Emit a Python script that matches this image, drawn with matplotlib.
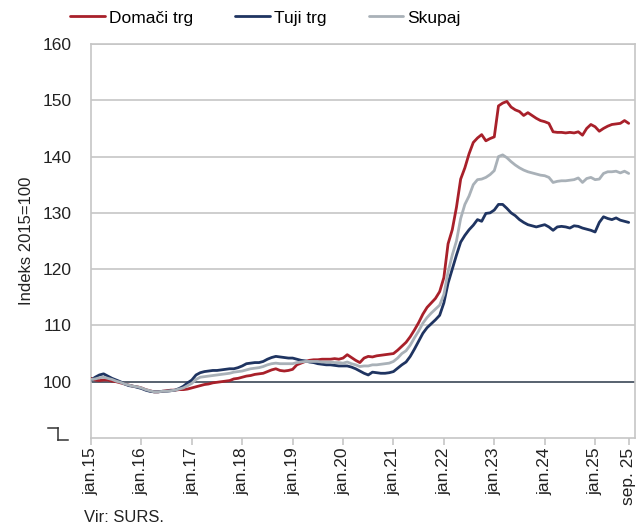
import matplotlib
matplotlib.use("Agg")
import matplotlib.pyplot as plt
from matplotlib.lines import Line2D
import numpy as np

plt.rcParams['font.family'] = ['Liberation Sans', 'DejaVu Sans']

# Monthly data, jan 2015 - sep 2025
domaci = [
    100.6, 100.3, 100.2, 100.3, 100.3, 100.1, 100.0, 99.8, 99.6, 99.4, 99.2, 99.1,
    98.9, 98.6, 98.4, 98.2, 98.2, 98.3, 98.4, 98.5, 98.5, 98.6, 98.6, 98.7,
    98.9, 99.1, 99.3, 99.5, 99.6, 99.8, 99.9, 100.0, 100.1, 100.2, 100.5, 100.6,
    100.8, 101.0, 101.1, 101.3, 101.4, 101.5, 101.8, 102.1, 102.3, 102.0, 101.9, 102.0,
    102.2, 103.0, 103.3, 103.6, 103.8, 103.9, 103.9, 104.0, 104.0, 104.0, 104.1, 104.0,
    104.2, 104.8, 104.3, 103.8, 103.4, 104.2, 104.5, 104.4, 104.6, 104.7, 104.8, 104.9,
    105.0, 105.6, 106.3, 107.0, 108.0, 109.2, 110.5, 112.0, 113.2, 114.0, 114.8, 116.0,
    118.5, 124.5, 127.0, 131.0, 136.0, 138.0, 140.5, 142.5, 143.3, 143.9, 142.8, 143.2,
    143.5, 149.0, 149.5, 149.8, 148.8, 148.3, 148.0, 147.3, 147.8, 147.3, 146.8, 146.4,
    146.2, 145.9, 144.4, 144.3, 144.3, 144.2, 144.3, 144.2, 144.4, 143.8, 145.0, 145.7,
    145.3, 144.5, 145.0, 145.4, 145.7, 145.8, 145.9, 146.4, 145.9,
]
tuji = [
    100.3, 100.8, 101.2, 101.4, 101.0, 100.6, 100.3, 100.0, 99.6, 99.3, 99.2, 99.0,
    98.8, 98.5, 98.3, 98.2, 98.2, 98.3, 98.3, 98.4, 98.5, 98.8, 99.2, 99.8,
    100.3, 101.2, 101.6, 101.8, 101.9, 102.0, 102.0, 102.1, 102.2, 102.3, 102.3, 102.5,
    102.8, 103.2, 103.3, 103.4, 103.4, 103.6, 104.0, 104.3, 104.5, 104.4, 104.3, 104.2,
    104.2, 104.0, 103.8, 103.7, 103.5, 103.4, 103.2, 103.1, 103.0, 103.0, 102.9, 102.8,
    102.8, 102.8, 102.6, 102.3, 101.9, 101.5, 101.2, 101.7, 101.6, 101.5, 101.5, 101.6,
    101.8, 102.4, 103.0, 103.5, 104.5, 105.8, 107.2, 108.6, 109.6, 110.3, 111.0, 111.8,
    114.0, 117.5, 120.0, 122.5, 124.8, 126.0, 127.0, 127.8, 128.8, 128.5, 129.9, 130.0,
    130.5, 131.5, 131.5, 130.8, 130.0, 129.5, 128.8, 128.3, 127.9, 127.7, 127.5, 127.7,
    127.9, 127.5, 126.9, 127.5, 127.6, 127.5, 127.3, 127.7, 127.6, 127.3, 127.1, 126.9,
    126.6, 128.3, 129.3, 129.0, 128.8, 129.1, 128.7, 128.5, 128.3,
]
skupaj = [
    100.4, 100.5, 100.7, 100.8, 100.6, 100.4, 100.1, 99.9, 99.6, 99.4, 99.2, 99.1,
    98.9, 98.6, 98.4, 98.2, 98.2, 98.3, 98.3, 98.4, 98.5, 98.7, 98.9, 99.3,
    99.7, 100.4, 100.8, 100.9, 101.0, 101.1, 101.2, 101.3, 101.4, 101.5, 101.7, 101.8,
    101.9, 102.1, 102.3, 102.4, 102.5, 102.7, 103.0, 103.2, 103.3, 103.2, 103.2, 103.2,
    103.2, 103.4, 103.5, 103.6, 103.6, 103.6, 103.6, 103.5, 103.5, 103.5, 103.4, 103.4,
    103.3, 103.5, 103.2, 103.0, 102.7, 102.8, 102.8, 103.0, 103.0, 103.1, 103.2, 103.3,
    103.6, 104.2, 105.0, 105.5, 106.5, 107.8, 109.0, 110.4, 111.4, 112.2, 112.9, 113.6,
    115.5, 119.5, 122.5, 125.0, 129.0, 131.5, 133.0, 135.0, 135.9, 136.0, 136.3, 136.8,
    137.5, 140.0, 140.3, 139.8, 139.1, 138.5, 138.0, 137.6, 137.3, 137.1, 136.9, 136.7,
    136.6, 136.3, 135.4, 135.6, 135.7, 135.7, 135.8, 135.9, 136.2, 135.4, 136.1, 136.3,
    135.9, 136.0, 137.0, 137.3, 137.3, 137.4, 137.1, 137.4, 137.0,
]
tick_labels = ["jan.15", "jan.16", "jan.17", "jan.18", "jan.19", "jan.20",
               "jan.21", "jan.22", "jan.23", "jan.24", "jan.25", "sep. 25"]
tick_months = [0, 12, 24, 36, 48, 60, 72, 84, 96, 108, 120, 128]
series_names = ["Domači trg", "Tuji trg", "Skupaj"]
colors = ["#A8202A", "#1F3461", "#A9B1B8"]

x = np.arange(len(domaci))

fig = plt.figure(figsize=(6.38, 5.29), dpi=100)
ax = fig.add_axes([91/638, 1-438/529, (635-91)/638, (438-44)/529])

grid_c = "#C6C6C6"
for v in [110, 120, 130, 140, 150, 160]:
    ax.axhline(v, color=grid_c, lw=1.2, zorder=1)
ax.axhline(100, color="#4A5563", lw=1.3, zorder=2)

for ser, name, c in zip([domaci, tuji, skupaj], series_names, colors):
    ax.plot(x, ser, color=c, lw=2.0, label=name, zorder=3,
            solid_joinstyle='round', solid_capstyle='round')

ax.set_xlim(0, 129.5)
ax.set_ylim(90, 160)
ax.set_yticks([100, 110, 120, 130, 140, 150, 160])
ax.tick_params(axis='y', length=0, labelsize=12.5, pad=14, colors='#222222')
ax.set_xticks(tick_months)
ax.set_xticklabels(tick_labels, rotation=90, fontsize=12.5, color='#222222')
ax.tick_params(axis='x', length=5, width=1.2, color=grid_c, pad=2)
for s in ax.spines.values():
    s.set_color(grid_c)
    s.set_linewidth(1.2)
ax.set_ylabel("Indeks 2015=100", fontsize=12, color='#222222', labelpad=6)

# axis break mark
W, H = 638, 529
def fl(x1, y1, x2, y2):
    fig.add_artist(Line2D([x1/W, x2/W], [1-y1/H, 1-y2/H], color='#333333', lw=1.1))
fl(48, 428, 58, 428)
fl(58, 428, 58, 440)
fl(58, 440, 68, 440)

fig.legend(loc='upper left', bbox_to_anchor=(60/638, 1.0), ncol=3, frameon=False,
           fontsize=12.5, handlelength=2.0, handletextpad=0.25, columnspacing=2.4,
           borderaxespad=0.2)

fig.text(84/638, 1-518/529, "Vir: SURS.", fontsize=12, va='center', ha='left', color='#222222')

fig.savefig("out.png", dpi=100)
